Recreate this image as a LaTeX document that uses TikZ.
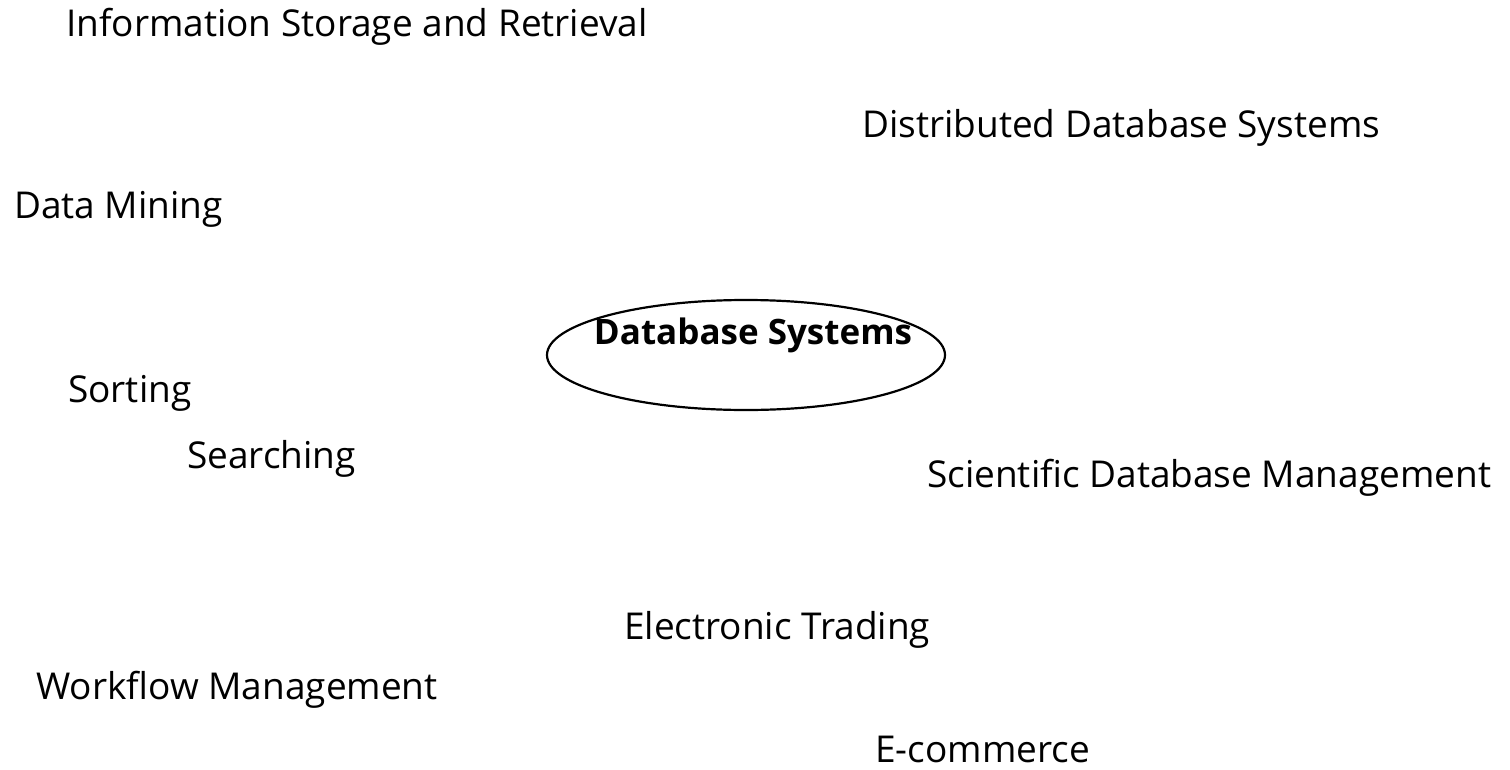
\documentclass[tikz,border=0pt]{standalone}
\usepackage{fontspec}
\setmainfont{Open Sans}[BoldFont={Open Sans Bold}]
\usetikzlibrary{shapes.geometric}
\begin{document}
\begin{tikzpicture}[x=1bp,y=-1bp,
  lbl/.style={anchor=base west,inner sep=0pt,font=\fontsize{37bp}{44bp}\selectfont},
  hub/.style={draw,ellipse,line width=2.2bp,minimum width=398bp,minimum height=110bp,inner sep=0pt}]
\useasboundingbox[fill=white] (0,0) rectangle (1510,769);
\node[hub] (db) at (746,355) {};
\node[anchor=base,inner sep=0pt,font=\fontsize{35bp}{42bp}\selectfont\bfseries] (dbt) at (753,344) {Database Systems};
\node[lbl] (isr) at (66,37) {Information Storage and Retrieval};
\node[lbl] (dds) at (862,137) {Distributed Database Systems};
\node[lbl] (dm) at (14,218) {Data Mining};
\node[lbl] (so) at (68,402) {Sorting};
\node[lbl] (se) at (187,468) {Searching};
\node[lbl] (sdm) at (927,487) {Scientific Database Management};
\node[lbl] (et) at (624,639) {Electronic Trading};
\node[lbl] (wm) at (36,699) {Workflow Management};
\node[lbl] (ec) at (875,762) {E-commerce};
\end{tikzpicture}
\end{document}
